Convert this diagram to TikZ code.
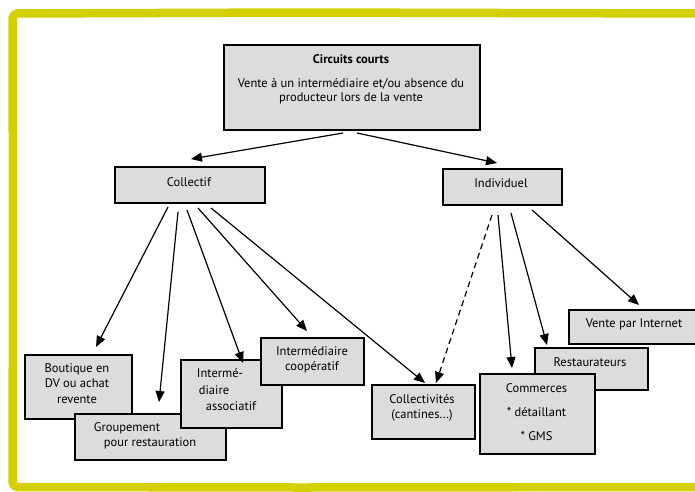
\documentclass[tikz,border=0pt]{standalone}
\usepackage{fontspec}
\setmainfont{PT Sans}
\usetikzlibrary{arrows.meta}
\definecolor{frameyellow}{RGB}{212,208,0}
\definecolor{boxgray}{RGB}{220,220,220}
\tikzset{
  box/.style={draw=black, fill=boxgray, line width=2pt, inner sep=0pt, anchor=north west},
  txt/.style={font=\fontsize{12.5}{15.5}\selectfont, align=center, inner sep=0pt, text=black},
  arr/.style={line width=1.2pt, -{Triangle[length=11pt,width=9pt]}},
  darr/.style={arr, dash pattern=on 6pt off 4pt}
}
\begin{document}
\begin{tikzpicture}[x=1pt,y=-1pt]
\useasboundingbox (0,0) rectangle (695,491);
\clip (0,0) rectangle (695,491);
\fill[white] (0,0) rectangle (695,491);
% yellow frame
\draw[frameyellow, line width=8.5pt, rounded corners=5pt, line join=round]
  (705,13.5) -- (300,12.5) -- (12.5,13.5) -- (13,250) -- (12.5,487) -- (300,487.5) -- (705,487);
% boxes
\node[box, minimum width=256pt, minimum height=85pt] (top) at (223,44) {};
\node[box, minimum width=150pt, minimum height=36pt] (col) at (114,166) {};
\node[box, minimum width=119pt, minimum height=36pt] (ind) at (442,168) {};
\node[box, minimum width=107pt, minimum height=64pt] (bout) at (24,354) {};
\node[box, minimum width=151pt, minimum height=46pt] (grp) at (74,413) {};
\node[box, minimum width=101pt, minimum height=68pt] (asso) at (180,359) {};
\node[box, minimum width=103pt, minimum height=47pt] (coop) at (260,337) {};
\node[box, minimum width=103pt, minimum height=54pt] (coll) at (371,384) {};
\node[box, minimum width=132pt, minimum height=34pt] (vente) at (568,309) {};
\node[box, minimum width=113pt, minimum height=42pt] (resto) at (534,347) {};
\node[box, minimum width=115pt, minimum height=80pt] (comm) at (479,373) {};
% texts
\node[txt, font=\fontsize{12.5}{15}\selectfont\bfseries] (t-top1) at (351,59) {Circuits courts};
\node[txt, font=\fontsize{12.5}{14}\selectfont] (t-top2) at (351,91.5) {Vente à un intermédiaire et/ou absence du\\producteur lors de la vente};
\node[txt] (t-col) at (189,182) {Collectif};
\node[txt] (t-ind) at (501,183) {Individuel};
\node[txt] (t-bout) at (77,383.5) {Boutique en\\DV ou achat\\revente};
\node[txt] (t-grp1) at (127,428) {Groupement};
\node[txt] (t-grp2) at (150,443) {pour restauration};
\node[txt] (t-asso1) at (220,373) {Intermé-};
\node[txt] (t-asso2) at (214,390) {diaire};
\node[txt] (t-asso3) at (231,406) {associatif};
\node[txt] (t-coop) at (312,359.5) {Intermédiaire\\coopératif};
\node[txt] (t-coll) at (422,408) {Collectivités\\(cantines...)};
\node[txt] (t-vente) at (634,324) {Vente par Internet};
\node[txt] (t-resto) at (590,362) {Restaurateurs};
\node[txt] (t-comm1) at (536.5,388) {Commerces};
\node[txt] (t-comm2) at (536.5,412) {* détaillant};
\node[txt] (t-comm3) at (536.5,436) {* GMS};
% arrows
\draw[arr] ([xshift=120pt,yshift=-2pt]top.south west) -- ([xshift=77pt,yshift=7pt]col.north west);
\draw[arr] ([xshift=134pt,yshift=-2pt]top.south west) -- ([xshift=55pt,yshift=5pt]ind.north west);
\draw[arr] ([xshift=54pt,yshift=-3pt]col.south west) -- ([xshift=72pt,yshift=7pt]bout.north west);
\draw[arr] ([xshift=64pt,yshift=-8pt]col.south west) -- ([xshift=85pt,yshift=11pt]grp.north west);
\draw[arr] ([xshift=73pt,yshift=-6pt]col.south west) -- ([xshift=63pt,yshift=-4pt]asso.north west);
\draw[arr] ([xshift=84pt,yshift=-4pt]col.south west) -- ([xshift=47pt,yshift=6pt]coop.north west);
\draw[arr] ([xshift=97pt,yshift=-4pt]col.south west) -- ([xshift=54pt,yshift=1pt]coll.north west);
\draw[darr] ([xshift=50pt,yshift=-9pt]ind.south west) -- ([xshift=65pt,yshift=1pt]coll.north west);
\draw[arr] ([xshift=56pt,yshift=-9pt]ind.south west) -- ([xshift=33pt,yshift=5pt]comm.north west);
\draw[arr] ([xshift=69pt,yshift=-7pt]ind.south west) -- ([xshift=13pt,yshift=2pt]resto.north west);
\draw[arr] ([xshift=90pt,yshift=-4pt]ind.south west) -- ([xshift=71pt,yshift=4pt]vente.north west);
\end{tikzpicture}
\end{document}
